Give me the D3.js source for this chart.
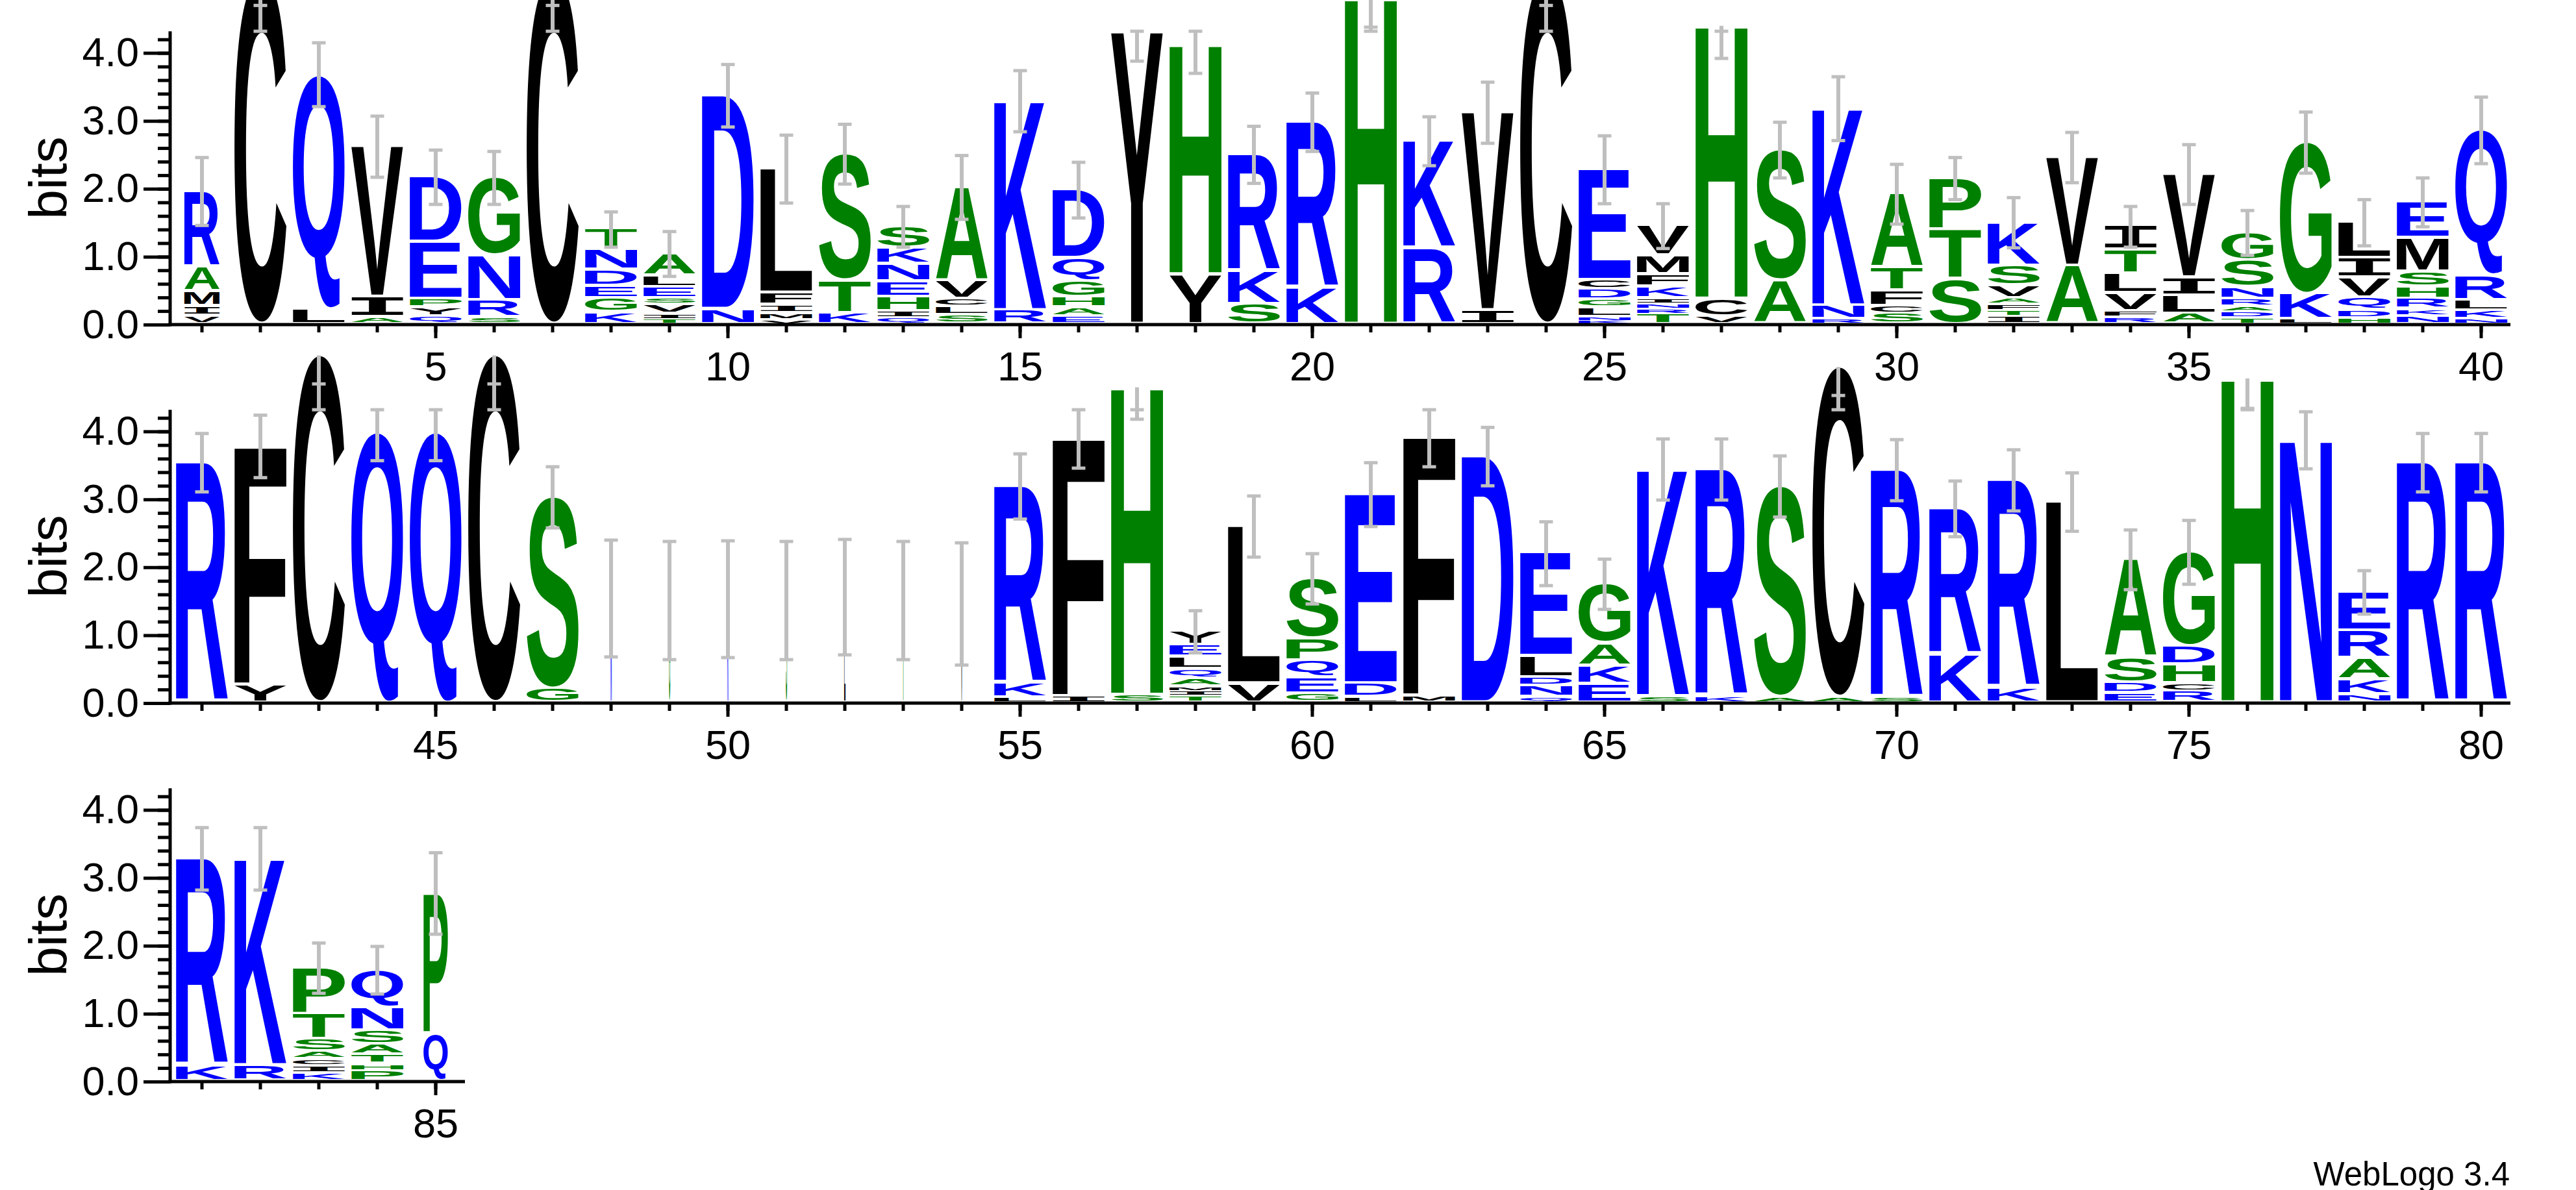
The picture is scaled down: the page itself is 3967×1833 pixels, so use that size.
<!DOCTYPE html>
<html>
<head>
<meta charset="utf-8">
<script src="https://cdn.jsdelivr.net/npm/d3@7"></script>
<style>
  body { margin: 0; background: #fff; }
  svg { display: block; }
  text { font-family: 'Liberation Sans', Arial, Helvetica, sans-serif; }
</style>
</head>
<body>
<svg id="logo" width="3967" height="1833"></svg>
<script>

// one stack per position, letters listed bottom -> top as [residue, bits]
var columns = [
  [ [ 'V', .12 ], [ 'I', .14 ], [ 'M', .22 ], [ 'A', .36 ], [ 'R', 1.12 ] ],
  [ [ 'C', 5.12 ] ],
  [ [ 'L', .22 ], [ 'Q', 3.46 ] ],
  [ [ 'A', .1 ], [ 'I', .3 ], [ 'V', 2.22 ] ],
  [ [ 'Q', .11 ], [ 'Y', .13 ], [ 'P', .13 ], [ 'E', .84 ], [ 'D', .96 ] ],
  [ [ 'S', .1 ], [ 'R', .25 ], [ 'N', .66 ], [ 'G', 1.15 ] ],
  [ [ 'C', 5.12 ] ],
  [ [ 'K', .17 ], [ 'G', .21 ], [ 'E', .18 ], [ 'D', .24 ], [ 'N', .3 ], [ 'T', .3 ] ],
  [ [ 'T', .07 ], [ 'I', .08 ], [ 'V', .14 ], [ 'S', .09 ], [ 'E', .16 ], [ 'L', .17 ], [ 'A', .33 ] ],
  [ [ 'N', .22 ], [ 'D', 3.15 ] ],
  [ [ 'V', .06 ], [ 'M', .1 ], [ 'I', .12 ], [ 'F', .18 ], [ 'L', 1.83 ] ],
  [ [ 'K', .16 ], [ 'T', .48 ], [ 'S', 1.87 ] ],
  [ [ 'Q', .09 ], [ 'I', .1 ], [ 'H', .21 ], [ 'E', .23 ], [ 'N', .25 ], [ 'K', .24 ], [ 'S', .32 ] ],
  [ [ 'S', .13 ], [ 'L', .13 ], [ 'C', .11 ], [ 'V', .27 ], [ 'A', 1.38 ] ],
  [ [ 'R', .2 ], [ 'K', 3.09 ] ],
  [ [ 'E', .11 ], [ 'A', .13 ], [ 'H', .15 ], [ 'G', .24 ], [ 'Q', .34 ], [ 'D', 1.01 ] ],
  [ [ 'Y', 4.3 ] ],
  [ [ 'Y', .73 ], [ 'H', 3.39 ] ],
  [ [ 'S', .29 ], [ 'K', .49 ], [ 'R', 1.72 ] ],
  [ [ 'K', .53 ], [ 'R', 2.45 ] ],
  [ [ 'H', 4.81 ] ],
  [ [ 'R', 1.12 ], [ 'K', 1.58 ] ],
  [ [ 'I', .2 ], [ 'V', 2.92 ] ],
  [ [ 'C', 5.12 ] ],
  [ [ 'K', .05 ], [ 'N', .05 ], [ 'L', .14 ], [ 'G', .12 ], [ 'D', .15 ], [ 'C', .14 ], [ 'E', 1.63 ] ],
  [ [ 'T', .15 ], [ 'R', .07 ], [ 'N', .08 ], [ 'I', .08 ], [ 'K', .17 ], [ 'F', .18 ], [ 'M', .28 ], [ 'V', .44 ] ],
  [ [ 'V', .11 ], [ 'C', .26 ], [ 'H', 4.03 ] ],
  [ [ 'A', .64 ], [ 'S', 1.93 ] ],
  [ [ 'R', .07 ], [ 'N', .2 ], [ 'K', 2.91 ] ],
  [ [ 'S', .15 ], [ 'C', .11 ], [ 'F', .23 ], [ 'T', .34 ], [ 'A', 1.09 ] ],
  [ [ 'S', .66 ], [ 'T', .73 ], [ 'P', .76 ] ],
  [ [ 'I', .11 ], [ 'T', .09 ], [ 'F', .09 ], [ 'A', .09 ], [ 'V', .19 ], [ 'S', .29 ], [ 'K', .64 ] ],
  [ [ 'A', .86 ], [ 'V', 1.6 ] ],
  [ [ 'R', .1 ], [ 'F', .09 ], [ 'V', .26 ], [ 'L', .29 ], [ 'T', .35 ], [ 'I', .35 ] ],
  [ [ 'A', .15 ], [ 'L', .27 ], [ 'I', .26 ], [ 'V', 1.53 ] ],
  [ [ 'T', .09 ], [ 'D', .09 ], [ 'A', .08 ], [ 'R', .11 ], [ 'N', .17 ], [ 'S', .4 ], [ 'G', .41 ] ],
  [ [ 'L', .07 ], [ 'K', .37 ], [ 'G', 2.24 ] ],
  [ [ 'H', .09 ], [ 'D', .11 ], [ 'Q', .19 ], [ 'V', .29 ], [ 'I', .29 ], [ 'L', .53 ] ],
  [ [ 'N', .12 ], [ 'K', .1 ], [ 'R', .15 ], [ 'H', .18 ], [ 'S', .22 ], [ 'M', .5 ], [ 'E', .53 ] ],
  [ [ 'N', .07 ], [ 'K', .13 ], [ 'L', .15 ], [ 'R', .36 ], [ 'Q', 2.15 ] ],
  [ [ 'R', 3.54 ] ],
  [ [ 'Y', .26 ], [ 'F', 3.52 ] ],
  [ [ 'C', 5.12 ] ],
  [ [ 'Q', 4.0 ] ],
  [ [ 'Q', 4.0 ] ],
  [ [ 'C', 5.12 ] ],
  [ [ 'G', .2 ], [ 'S', 2.83 ] ],
  [ [ 'N', 1.54 ] ],
  [ [ 'G', 1.51 ] ],
  [ [ 'K', 1.53 ] ],
  [ [ 'S', 1.51 ] ],
  [ [ 'L', 1.56 ] ],
  [ [ 'T', 1.51 ] ],
  [ [ 'V', 1.46 ] ],
  [ [ 'L', .07 ], [ 'K', .21 ], [ 'R', 2.91 ] ],
  [ [ 'I', .09 ], [ 'F', 3.81 ] ],
  [ [ 'S', .11 ], [ 'H', 4.54 ] ],
  [ [ 'T', .1 ], [ 'I', .07 ], [ 'M', .06 ], [ 'A', .12 ], [ 'Q', .14 ], [ 'L', .18 ], [ 'E', .18 ], [ 'Y', .2 ] ],
  [ [ 'V', .28 ], [ 'L', 2.32 ] ],
  [ [ 'G', .13 ], [ 'E', .24 ], [ 'Q', .25 ], [ 'P', .32 ], [ 'S', .89 ] ],
  [ [ 'L', .08 ], [ 'D', .2 ], [ 'E', 2.79 ] ],
  [ [ 'M', .1 ], [ 'F', 3.83 ] ],
  [ [ 'D', 3.63 ] ],
  [ [ 'Q', .08 ], [ 'N', .16 ], [ 'D', .13 ], [ 'L', .31 ], [ 'E', 1.52 ] ],
  [ [ 'E', .27 ], [ 'K', .27 ], [ 'A', .33 ], [ 'G', .88 ] ],
  [ [ 'S', .09 ], [ 'K', 3.35 ] ],
  [ [ 'K', .09 ], [ 'R', 3.35 ] ],
  [ [ 'A', .08 ], [ 'S', 3.11 ] ],
  [ [ 'A', .08 ], [ 'C', 4.87 ] ],
  [ [ 'S', .07 ], [ 'R', 3.36 ] ],
  [ [ 'K', .71 ], [ 'R', 2.15 ] ],
  [ [ 'K', .22 ], [ 'R', 3.06 ] ],
  [ [ 'L', 2.96 ] ],
  [ [ 'E', .14 ], [ 'D', .15 ], [ 'S', .37 ], [ 'A', 1.45 ] ],
  [ [ 'R', .16 ], [ 'C', .12 ], [ 'H', .28 ], [ 'D', .27 ], [ 'G', 1.39 ] ],
  [ [ 'H', 4.78 ] ],
  [ [ 'N', 3.87 ] ],
  [ [ 'N', .12 ], [ 'K', .22 ], [ 'A', .31 ], [ 'R', .41 ], [ 'E', .57 ] ],
  [ [ 'R', 3.54 ] ],
  [ [ 'R', 3.54 ] ],
  [ [ 'K', .23 ], [ 'R', 3.05 ] ],
  [ [ 'R', .23 ], [ 'K', 3.05 ] ],
  [ [ 'K', .12 ], [ 'I', .1 ], [ 'C', .1 ], [ 'A', .11 ], [ 'S', .19 ], [ 'T', .37 ], [ 'P', .68 ] ],
  [ [ 'P', .15 ], [ 'H', .1 ], [ 'T', .14 ], [ 'A', .15 ], [ 'S', .2 ], [ 'N', .34 ], [ 'Q', .56 ] ],
  [ [ 'Q', .7 ], [ 'P', 2.07 ] ]
];

// error bar half-length (bits) per position
var errors = [
  .5, .42, .47, .45, .4, .39, .42, .26, .33, .46,
  .5, .44, .3, .47, .45, .41, .42, .42, .42, .43,
  .43, .36, .45, .42, .5, .33, .48, .41, .47, .44,
  .31, .37, .37, .3, .44, .33, .45, .34, .36, .49,
  .43, .46, .42, .43, .43, .42, .45, .86, .87, .86,
  .87, .85, .87, .9, .48, .44, .47, .31, .45, .37,
  .47, .45, .43, .47, .37, .45, .45, .45, .42, .45,
  .41, .45, .43, .44, .47, .44, .42, .32, .43, .43,
  .46, .46, .37, .35, .6
];

// fraction of non-gap symbols (stack width)
var occupancy = [
  .68, 1, 1, 1, 1, 1, 1, 1, 1, 1,
  1, 1, 1, 1, 1, 1, 1, 1, 1, 1,
  1, 1, 1, 1, 1, 1, 1, 1, 1, 1,
  1, 1, 1, 1, 1, 1, 1, 1, 1, 1,
  1, 1, 1, 1, 1, 1, 1, .025, .025, .025,
  .025, .025, .025, .025, 1, 1, 1, 1, 1, 1,
  1, 1, 1, 1, 1, 1, 1, 1, 1, 1,
  1, 1, 1, 1, 1, 1, 1, 1, 1, 1,
  1, 1, 1, 1, .47
];

var hydrophilic = 'RKDENQ',
  neutral = 'SGHTAP',
  hydrophobic = 'YVMCLFIW';

var yMajor = [ 0, 1, 2, 3, 4 ],
  yMinor = d3.range( 0, 4.3, 0.2 ),
  yMax = 4.32;

var rowStarts = [ 1, 41, 81 ],
  perRow = 40;

var svg = d3.select( '#logo' ),
  step = 90,
  left = 266,
  axisX = 262,
  pxPerBit = 104.6,
  baselines = [ 500, 1083, 1666 ],
  font = "'Liberation Sans', Arial, Helvetica, sans-serif";

var z = d3.scaleOrdinal()
  .domain( [ 'hydrophilic', 'neutral', 'hydrophobic' ] )
  .range( [ '#0000ff', '#008000', '#000000' ] );

function colorOf( c ) {
  if ( hydrophilic.indexOf( c ) >= 0 ) return z( 'hydrophilic' );
  if ( neutral.indexOf( c ) >= 0 ) return z( 'neutral' );
  return z( 'hydrophobic' );
}

// the logo's I has serifs, the rest are plain bold sans
function glyphFont( c ) {
  return c === 'I' ? "'DejaVu Sans Mono'" : "'Liberation Sans'";
}

/* Glyph ink boxes, so each letter can be stretched to fill its slot */
var ctx = document.createElement( 'canvas' ).getContext( '2d' );
var ink = {};
'ACDEFGHIKLMNPQRSTVWY'.split( '' ).forEach( c => {
  ctx.font = 'bold 200px ' + glyphFont( c );
  var m = ctx.measureText( c );
  ink[ c ] = {
    l: m.actualBoundingBoxLeft, r: m.actualBoundingBoxRight,
    a: m.actualBoundingBoxAscent, d: m.actualBoundingBoxDescent
  };
} );

rowStarts.forEach( ( start, r ) => {

  var positions = d3.range( start, Math.min( start + perRow, columns.length + 1 ) ),
    base = baselines[ r ];

  var x = d3.scaleBand()
    .domain( positions )
    .range( [ left, left + step * positions.length ] )
    .paddingInner( 1 / 9 )
    .paddingOuter( 1 / 18 );

  var y = d3.scaleLinear()
    .domain( [ 0, yMax ] )
    .range( [ base, base - yMax * pxPerBit ] );

  var row = svg.append( 'g' ).attr( 'class', 'row' );

  /* Letters */

  var letters = [];
  positions.forEach( p => {
    var w = x.bandwidth() * occupancy[ p - 1 ],
      x0 = x( p ) + ( x.bandwidth() - w ) / 2,
      cum = 0;
    columns[ p - 1 ].forEach( d => {
      var yb = y( cum ), yt = y( cum + d[ 1 ] ), h = yb - yt;
      letters.push( { c: d[ 0 ], x0: x0, w: w, top: yt, bottom: yb - Math.min( 4.5, h * 0.35 ) } );
      cum += d[ 1 ];
    } );
  } );

  row.selectAll( '.glyph' )
    .data( letters )
    .enter().append( 'text' )
      .attr( 'class', 'glyph' )
      .attr( 'x', 0 )
      .attr( 'y', 0 )
      .style( 'font-family', d => glyphFont( d.c ) )
      .style( 'font-weight', 'bold' )
      .style( 'font-size', '200px' )
      .style( 'fill', d => colorOf( d.c ) )
      .attr( 'transform', d => {
        var m = ink[ d.c ],
          sx = d.w / ( m.l + m.r ),
          sy = ( d.bottom - d.top ) / ( m.a + m.d );
        return 'translate(' + ( d.x0 + m.l * sx ) + ',' + ( d.bottom - m.d * sy ) + ') scale(' + sx + ',' + sy + ')';
      } )
      .text( d => d.c );

  /* Error bars */

  var bars = positions.map( p => {
    var top = d3.sum( columns[ p - 1 ], d => d[ 1 ] ),
      lo = top - errors[ p - 1 ],
      hi = Math.min( top + errors[ p - 1 ], yMax );
    return { cx: x( p ) + x.bandwidth() / 2, top: top, lo: lo, hi: hi };
  } );

  var eb = row.selectAll( '.errorbar' )
    .data( bars )
    .enter().append( 'g' )
      .attr( 'class', 'errorbar' )
      .style( 'stroke', '#bfbfbf' );

  eb.append( 'line' )
    .attr( 'x1', d => d.cx )
    .attr( 'x2', d => d.cx )
    .attr( 'y1', d => y( Math.min( d.lo, d.hi ) ) )
    .attr( 'y2', d => y( Math.max( d.top, d.hi ) ) )
    .style( 'stroke-width', 6 );

  [ 'lo', 'hi' ].forEach( k => {
    eb.append( 'line' )
      .attr( 'x1', d => d.cx - 10.5 )
      .attr( 'x2', d => d.cx + 10.5 )
      .attr( 'y1', d => y( d[ k ] ) )
      .attr( 'y2', d => y( d[ k ] ) )
      .style( 'stroke-width', 5 );
  } );

  /* Axes */

  var xEnd = x.range()[ 1 ];

  row.append( 'line' )
    .attr( 'x1', axisX - 2.5 ).attr( 'x2', xEnd )
    .attr( 'y1', base ).attr( 'y2', base )
    .style( 'stroke', '#000' ).style( 'stroke-width', 5 );

  row.append( 'line' )
    .attr( 'x1', axisX ).attr( 'x2', axisX )
    .attr( 'y1', base + 2.5 ).attr( 'y2', y( yMax ) )
    .style( 'stroke', '#000' ).style( 'stroke-width', 5 );

  var yMinorAxis = row.append( 'g' )
    .attr( 'transform', 'translate(' + axisX + ',0)' )
    .call( d3.axisLeft( y ).tickValues( yMinor ).tickSize( 19 ).tickFormat( '' ) );

  var yMajorAxis = row.append( 'g' )
    .attr( 'transform', 'translate(' + axisX + ',0)' )
    .call( d3.axisLeft( y ).tickValues( yMajor ).tickSize( 41 ).tickPadding( 7 ).tickFormat( d3.format( '.1f' ) ) );

  var xMinorAxis = row.append( 'g' )
    .attr( 'transform', 'translate(0,' + base + ')' )
    .call( d3.axisBottom( x ).tickSize( 12 ).tickFormat( '' ) );

  var xMajorAxis = row.append( 'g' )
    .attr( 'transform', 'translate(0,' + base + ')' )
    .call( d3.axisBottom( x ).tickValues( positions.filter( p => p % 5 === 0 ) ).tickSize( 21 ).tickPadding( 20 ) );

  [ yMinorAxis, yMajorAxis, xMinorAxis, xMajorAxis ].forEach( g => {
    g.select( '.domain' ).remove();
    g.selectAll( '.tick line' ).style( 'stroke-width', 5 );
    g.selectAll( '.tick text' )
      .style( 'font-family', font )
      .style( 'font-size', '63px' )
      .style( 'fill', '#000' );
  } );

  row.append( 'text' )
    .attr( 'transform', 'translate(102,' + ( base - yMax * pxPerBit / 2 ) + ') rotate(-90)' )
    .attr( 'text-anchor', 'middle' )
    .style( 'font-family', font )
    .style( 'font-size', '82px' )
    .text( 'bits' );

} );

svg.append( 'text' )
  .attr( 'x', 3865 )
  .attr( 'y', 1826 )
  .attr( 'text-anchor', 'end' )
  .style( 'font-family', font )
  .style( 'font-size', '51px' )
  .text( 'WebLogo 3.4' );

</script>
</body>
</html>
